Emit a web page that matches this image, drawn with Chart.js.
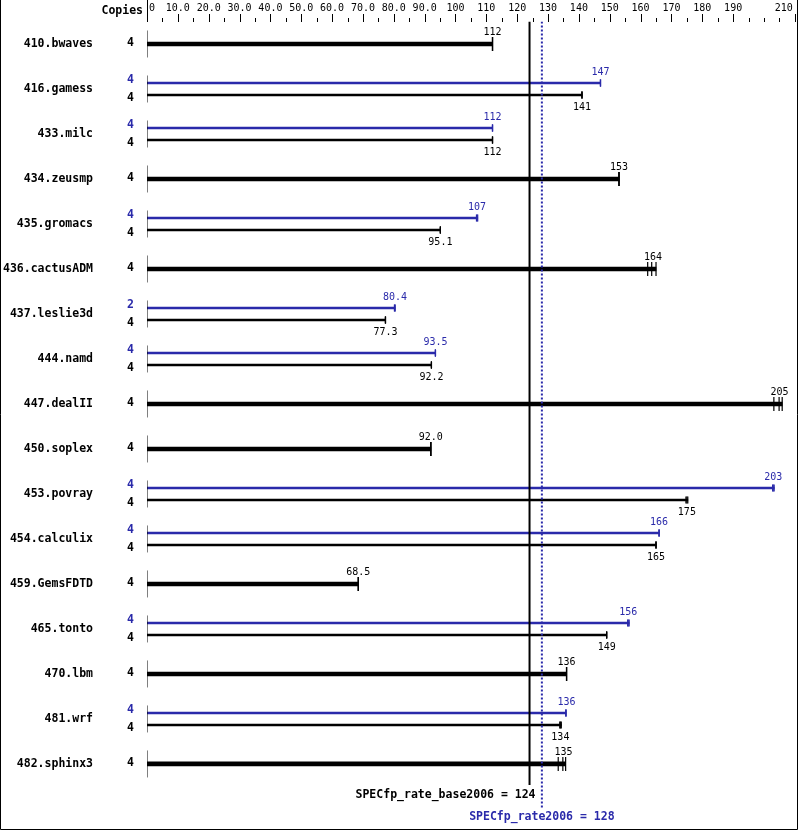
<!DOCTYPE html>
<html lang="en">
<head>
  <meta charset="UTF-8">
  <script src="https://cdn.jsdelivr.net/npm/chart.js"></script>
  <title>SPECfp_rate2006</title>
  <style>
    body { margin: 0; background: #fff; }
    .box { width: 799px; height: 831px; position: relative; }
  </style>
</head>
<body>

<div class="box">
  <canvas id="specChart"></canvas>
</div>

<script>
  // benchmarks, top to bottom
  const benchmarks = ['410.bwaves', '416.gamess', '433.milc', '434.zeusmp', '435.gromacs',
    '436.cactusADM', '437.leslie3d', '444.namd', '447.dealII', '450.soplex', '453.povray',
    '454.calculix', '459.GemsFDTD', '465.tonto', '470.lbm', '481.wrf', '482.sphinx3'];

  // copies (null = no separate peak result)
  const baseCopies = [4, 4, 4, 4, 4, 4, 4, 4, 4, 4, 4, 4, 4, 4, 4, 4, 4];
  const peakCopies = [null, 4, 4, null, 4, null, 2, 4, null, null, 4, 4, null, 4, null, 4, null];

  // reported (median) ratios
  const baseRatio = ['112', '141', '112', '153', '95.1', '164', '77.3', '92.2', '205', '92.0',
    '175', '165', '68.5', '149', '136', '134', '135'];
  const peakRatio = [null, '147', '112', null, '107', null, '80.4', '93.5', null, null,
    '203', '166', null, '156', null, '136', null];

  // individual run ratios (end ticks), bars run to the largest
  const baseRuns = [
    [112, 112, 112], [141, 141, 141], [112, 112, 112], [153, 153, 153], [95.1, 95.1, 95.1],
    [162.3, 163.6, 165.0], [77.3, 77.3, 77.3], [92.2, 92.2, 92.2], [203.2, 204.9, 205.9],
    [92.0, 92.0, 92.0], [174.7, 175.0, 175.3], [165, 165, 165], [68.5, 68.5, 68.5],
    [149, 149, 149], [136, 136, 136], [133.8, 134.0, 134.3], [133.3, 134.8, 135.7]
  ];
  const peakRuns = [
    null, [147, 147, 147], [112, 112, 112], null, [106.8, 107.0, 107.2], null,
    [80.2, 80.4, 80.4], [93.5, 93.5, 93.5], null, null, [202.8, 203.0, 203.3],
    [166, 166, 166], null, [155.8, 156.0, 156.3], null, [135.8, 135.8, 135.8], null
  ];

  // overall results
  const baseMean = 124;
  const peakMean = 128;
  const baseMeanLabel = 'SPECfp_rate_base2006 = 124';
  const peakMeanLabel = 'SPECfp_rate2006 = 128';

  // top axis labels
  const tickValues = [0, 10, 20, 30, 40, 50, 60, 70, 80, 90, 100, 110, 120, 130, 140, 150, 160, 170, 180, 190, 210];
  const tickLabels = ['0', '10.0', '20.0', '30.0', '40.0', '50.0', '60.0', '70.0', '80.0', '90.0',
    '100', '110', '120', '130', '140', '150', '160', '170', '180', '190', '210'];

  const BLUE = '#2a2aaa';
  const OFF = 6 / 45; // offset of the thin bars from row centre, in rows

  const thickBars = [], thinBase = [], thinPeak = [];
  const thickTicks = [], thinTicks = [], thinPeakTicks = [], rowMarks = [];
  benchmarks.forEach((b, i) => {
    rowMarks.push({ x: 0, y: i });
    const bmax = Math.max(...baseRuns[i]);
    if (peakRuns[i]) {
      const pmax = Math.max(...peakRuns[i]);
      thinPeak.push({ x: pmax, y: i - OFF });
      thinBase.push({ x: bmax, y: i + OFF });
      peakRuns[i].forEach(v => thinPeakTicks.push({ x: v, y: i - OFF }));
      baseRuns[i].forEach(v => thinTicks.push({ x: v, y: i + OFF }));
    } else {
      thickBars.push({ x: bmax, y: i });
      baseRuns[i].forEach(v => thickTicks.push({ x: v, y: i }));
    }
  });

  const lastRow = benchmarks.length - 1;

  const specText = {
    id: 'specText',
    afterDraw(chart) {
      const { ctx, scales: { x, y } } = chart;
      const x0 = Math.round(x.getPixelForValue(0)) + 0.5;
      ctx.save();

      // frame
      ctx.strokeStyle = '#000';
      ctx.lineWidth = 1;
      ctx.beginPath();
      ctx.moveTo(0.5, 0); ctx.lineTo(0.5, 829.5);
      ctx.lineTo(797.5, 829.5); ctx.lineTo(797.5, 0);
      ctx.stroke();

      // top axis
      ctx.beginPath();
      ctx.moveTo(x0, 0); ctx.lineTo(x0, 22);
      for (let v = 5; v <= 210; v += 5) {
        const px = Math.round(x.getPixelForValue(v)) + 0.5;
        const major = tickValues.includes(v);
        ctx.moveTo(px, major ? 14 : 18);
        ctx.lineTo(px, 22);
      }
      ctx.stroke();

      ctx.fillStyle = '#000';
      ctx.textBaseline = 'alphabetic';
      ctx.font = '10px "DejaVu Sans Mono"';
      tickValues.forEach((v, k) => {
        const px = x.getPixelForValue(v);
        if (v === 0) { ctx.textAlign = 'left'; ctx.fillText(tickLabels[k], px + 2, 11); }
        else if (k === tickValues.length - 1) { ctx.textAlign = 'right'; ctx.fillText(tickLabels[k], px - 2, 11); }
        else { ctx.textAlign = 'center'; ctx.fillText(tickLabels[k], px, 11); }
      });
      ctx.font = 'bold 11.5px "DejaVu Sans Mono"';
      ctx.textAlign = 'right';
      ctx.fillText('Copies', 143, 14);

      // row labels
      ctx.textBaseline = 'middle';
      benchmarks.forEach((b, i) => {
        const yc = y.getPixelForValue(i);
        ctx.font = 'bold 11.5px "DejaVu Sans Mono"';
        ctx.textAlign = 'right';
        ctx.fillStyle = '#000';
        ctx.fillText(b, 93, yc);
        if (peakCopies[i] !== null) {
          ctx.fillStyle = BLUE;
          ctx.fillText(String(peakCopies[i]), 134, yc - 9);
          ctx.fillStyle = '#000';
          ctx.fillText(String(baseCopies[i]), 134, yc + 9);

          ctx.font = '10px "DejaVu Sans Mono"';
          ctx.textAlign = 'center';
          ctx.fillStyle = BLUE;
          ctx.fillText(peakRatio[i], x.getPixelForValue(parseFloat(peakRatio[i])), yc - 17);
          ctx.fillStyle = '#000';
          ctx.fillText(baseRatio[i], x.getPixelForValue(parseFloat(baseRatio[i])), yc + 18);
        } else {
          ctx.fillText(String(baseCopies[i]), 134, yc - 1);
          ctx.font = '10px "DejaVu Sans Mono"';
          ctx.textAlign = 'center';
          ctx.fillText(baseRatio[i], x.getPixelForValue(parseFloat(baseRatio[i])), yc - 12);
        }
      });

      // overall results
      ctx.font = 'bold 11.5px "DejaVu Sans Mono"';
      ctx.fillStyle = '#000';
      ctx.textAlign = 'right';
      ctx.fillText(baseMeanLabel, x.getPixelForValue(baseMean) + 6, 795);
      ctx.fillStyle = BLUE;
      ctx.textAlign = 'center';
      ctx.fillText(peakMeanLabel, x.getPixelForValue(peakMean), 817);

      ctx.restore();
    }
  };

  const tickSet = (data, color, r, w) => ({
    type: 'scatter', data: data, showLine: false,
    pointStyle: 'line', pointRotation: 90, pointRadius: r, pointHoverRadius: r,
    borderColor: color, backgroundColor: color, borderWidth: w, order: 1
  });
  const barSet = (data, color, h) => ({
    type: 'bar', indexAxis: 'y', data: data, grouped: false,
    barThickness: h, backgroundColor: color, borderWidth: 0, order: 3
  });

  new Chart(document.getElementById('specChart'), {
    type: 'scatter',
    data: {
      datasets: [
        barSet(thickBars, '#000', 4),
        barSet(thinBase, '#000', 2),
        barSet(thinPeak, BLUE, 2),
        tickSet(thickTicks, '#000', 7, 1.2),
        tickSet(thinTicks, '#000', 3.5, 1.2),
        tickSet(thinPeakTicks, BLUE, 3.5, 1.2),
        tickSet(rowMarks, '#000', 13.5, 1),
        {
          type: 'scatter', showLine: true, order: 2,
          data: [{ x: baseMean, y: -0.5 }, { x: baseMean, y: lastRow + 0.47 }],
          borderColor: '#000', borderWidth: 2, pointRadius: 0
        },
        {
          type: 'scatter', showLine: true, order: 0,
          data: [{ x: peakMean, y: -0.5 }, { x: peakMean, y: lastRow + 0.98 }],
          borderColor: BLUE, borderWidth: 2, borderDash: [2, 2], pointRadius: 0
        }
      ]
    },
    options: {
      responsive: true,
      maintainAspectRatio: false,
      animation: false,
      events: [],
      layout: { autoPadding: false, padding: { left: 147, right: 2, top: 21.5, bottom: 0 } },
      plugins: { legend: { display: false }, tooltip: { enabled: false } },
      scales: {
        x: { type: 'linear', min: 0, max: 210.7, display: false },
        y: { type: 'linear', min: -0.5, max: 17.49, reverse: true, offset: false, display: false }
      }
    },
    plugins: [specText]
  });
</script>

</body>
</html>
